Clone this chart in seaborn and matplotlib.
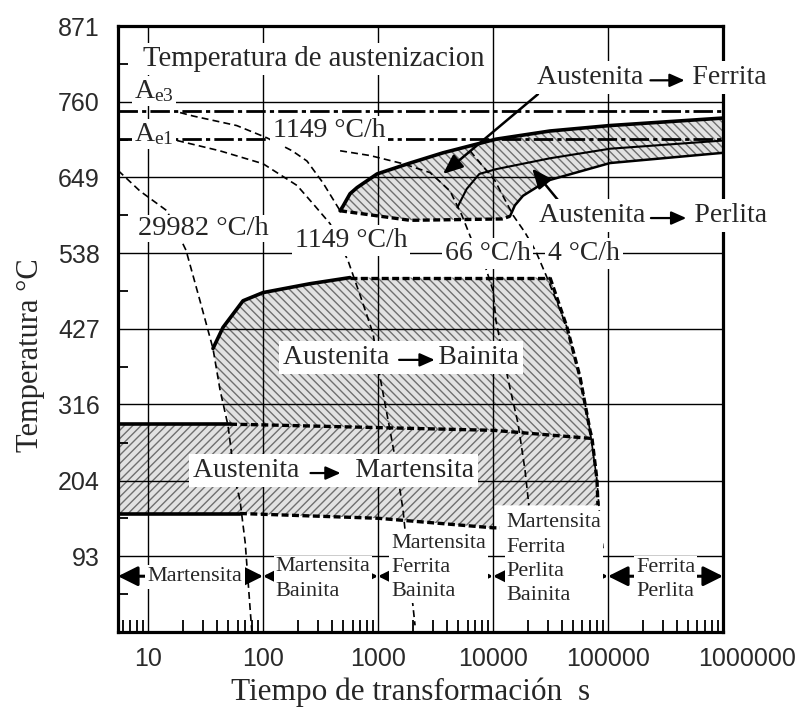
import numpy as np
import matplotlib
matplotlib.use('Agg')
import matplotlib.pyplot as plt
import matplotlib.transforms as mtransforms
import seaborn as sns
from matplotlib.ticker import FixedLocator, NullFormatter, LogLocator

# ---------------- data (time in s, temperature in deg C) ----------------
x_ticks = [10, 100, 1000, 10000, 100000, 1000000]
x_tick_labels = ['10', '100', '1000', '10000', '100000', '1000000']
y_ticks = [93, 204, 316, 427, 538, 649, 760, 871]
y_tick_labels = ['93', '204', '316', '427', '538', '649', '760', '871']

A_e3 = 746
A_e1 = 705

cool_29982_t = [5.5, 8.5, 14.6, 21.4, 28.3, 36.7, 42.3, 49.6, 57, 63, 70, 77, 80]
cool_29982_T = [659, 629, 600, 542, 468, 398, 337, 285, 205, 176, 113, 19, -18]
cool_1149a_t = [19, 24.6, 59, 108, 179, 241, 332, 468]
cool_1149a_T = [744, 739, 725, 707, 688, 673, 641, 600]
cool_1149b_t = [17.9, 42, 100, 198, 283, 383, 548, 726, 905, 1041, 1271, 1405, 1650, 1824, 2098]
cool_1149b_T = [703, 688, 669, 637, 607, 581, 527, 468, 420, 356, 278, 238, 161, 88, -8]
cool_66_t = [468, 852, 1650, 2833, 4229, 5375, 6564, 8500, 10000, 10600, 12500, 14000, 16500, 19000, 20500]
cool_66_T = [688, 681, 669, 656, 629, 593, 556, 520, 483, 439, 380, 341, 288, 219, 168]
cool_4_t = [6310, 10400, 15000, 19000, 23500, 29500, 44000, 57100, 69700, 80200, 85100, 90500]
cool_4_T = [688, 644, 593, 568, 541, 502, 429, 356, 278, 205, 146, 105]

# ferrite / pearlite band
ferr_start_t = [468, 497, 571, 657, 980, 1900, 3673, 10600, 31300, 104000, 1000000]
ferr_start_T = [600, 607, 625, 634, 654, 670, 685, 705, 717, 725, 736]
perl_start_t = [14060, 15500, 18230, 29500, 104000, 1000000]
perl_start_T = [592, 608, 622, 644, 670, 685]
fp_base_t = [468, 1900, 12000, 14060]
fp_base_T = [600, 586, 588, 592]
inner_t = [4900, 5900, 7600, 10600, 31300, 104000, 1000000]
inner_T = [605, 632, 654, 661, 677, 691, 703]

# bainite
bain_start_t = [36.7, 44.9, 67, 100, 256, 571]
bain_start_T = [398, 429, 468, 480, 493, 502]
bain_top_t = [571, 31300]
bain_top_T = [502, 502]
bain_end_t = [31300, 44000, 57100, 69700, 72600, 80200, 81800]
bain_end_T = [502, 429, 356, 278, 266, 205, 168]

# martensite
ms_solid_t = [5.48, 51.7]
ms_solid_T = [287, 287]
ms_dash_t = [51.7, 100, 1000, 10000, 72600]
ms_dash_T = [287, 286, 282, 278, 266]
mf_solid_t = [5.48, 63]
mf_solid_T = [156, 156]
mf_dash_t = [63, 1000, 10000, 10000, 11500]
mf_dash_T = [156, 149, 135, 135, 135]

# bottom product ranges
range_edges = [5.48, 100, 1000, 10000, 100000, 1000000]

# ---------------- style ----------------
sns.set_theme(style='white')
plt.rcParams.update({
    'font.family': ['Liberation Serif', 'DejaVu Serif'],
    'lines.scale_dashes': False,
    'hatch.linewidth': 1.0,
    'axes.axisbelow': 'line',
    'mathtext.default': 'regular',
})

fig = plt.figure(figsize=(8.03, 7.10), dpi=100)
ax = fig.add_axes([118 / 803, 78 / 710, 605 / 803, 606 / 710])
ax.set_xscale('log')
ax.set_xlim(5.48, 1e6)
ax.set_ylim(-17.8, 871)
ax.set_facecolor('white')

FACE = '#e2e2e2'
HATCH = '#6f6f6f'

# hatched regions
m_t = ms_solid_t[:1] + ms_dash_t + [80200, 81800, 10000, 10000, 1000, 63, 5.48]
m_T = ms_solid_T[:1] + ms_dash_T + [205, 168, 168, 135, 149, 156, 156]
ax.fill(m_t, m_T, facecolor=FACE, edgecolor=HATCH, lw=0, hatch='////', zorder=1)

b_t = bain_start_t + bain_end_t[:5] + ms_dash_t[::-1][1:] + [42.3]
b_T = bain_start_T + bain_end_T[:5] + ms_dash_T[::-1][1:] + [337]
ax.fill(b_t, b_T, facecolor=FACE, edgecolor=HATCH, lw=0, hatch='\\\\\\\\', zorder=1)

fp_t = ferr_start_t + perl_start_t[::-1] + fp_base_t[::-1]
fp_T = ferr_start_T + perl_start_T[::-1] + fp_base_T[::-1]
ax.fill(fp_t, fp_T, facecolor=FACE, edgecolor=HATCH, lw=0, hatch='\\\\\\\\', zorder=1)

# grid
ax.set_xticks(x_ticks)
ax.set_xticklabels(x_tick_labels)
ax.set_yticks(y_ticks)
ax.set_yticklabels(y_tick_labels)
ax.grid(True, which='major', color='black', lw=1.0)
ax.xaxis.set_minor_locator(LogLocator(base=10, subs=np.arange(2, 10), numticks=30))
ax.xaxis.set_minor_formatter(NullFormatter())
ax.yaxis.set_minor_locator(FixedLocator([(f - 32) * 5 / 9 for f in range(100, 1600, 200)]))
ax.tick_params(which='major', length=0)
ax.tick_params(axis='x', which='major', pad=11, labelsize=18)
ax.tick_params(axis='y', which='major', pad=13, labelsize=18)
ax.tick_params(axis='x', which='minor', direction='in', length=9, width=1.3,
               bottom=True, top=False, color='black')
ax.tick_params(axis='y', which='minor', direction='in', length=7, width=1.3,
               left=True, right=False, color='black')
for lab in ax.get_xticklabels() + ax.get_yticklabels():
    lab.set_fontfamily('Liberation Sans')
    lab.set_color('#2a2a2a')
last = ax.get_xticklabels()[-1]
last.set_transform(last.get_transform() +
                   mtransforms.ScaledTranslation(24 / 100, 0, fig.dpi_scale_trans))
for s in ax.spines.values():
    s.set_linewidth(2.3)
    s.set_color('black')


def curve(t, T, **kw):
    sns.lineplot(x=t, y=T, sort=False, estimator=None, ax=ax, color='black', **kw)


THIN = dict(lw=1.2, linestyle=(0, (5, 3)), zorder=3)
HEAVY_D = dict(lw=2.4, linestyle=(0, (5, 2.5)), zorder=3)
HEAVY = dict(lw=2.6, zorder=3)

# A lines
curve([5.48, 1e6], [A_e3, A_e3], lw=2.0, linestyle=(0, (14, 3, 3, 3)), zorder=3)
curve([5.48, 1e6], [A_e1, A_e1], lw=2.0, linestyle=(0, (14, 3, 3, 3)), zorder=3)

# cooling curves
curve(cool_29982_t, cool_29982_T, **THIN)
curve(cool_1149a_t, cool_1149a_T, **THIN)
curve(cool_1149b_t, cool_1149b_T, **THIN)
curve(cool_66_t, cool_66_T, **THIN)
curve(cool_4_t, cool_4_T, **THIN)

# transformation boundaries
curve(ferr_start_t, ferr_start_T, **HEAVY)
curve(perl_start_t, perl_start_T, lw=1.8, zorder=3)
curve(inner_t, inner_T, lw=1.5, zorder=3)
curve(fp_base_t, fp_base_T, **HEAVY_D)
curve(bain_start_t, bain_start_T, **HEAVY)
curve(bain_top_t, bain_top_T, **HEAVY_D)
curve(bain_end_t, bain_end_T, **HEAVY_D)
curve(ms_solid_t, ms_solid_T, **HEAVY)
curve(ms_dash_t, ms_dash_T, **HEAVY_D)
curve(mf_solid_t, mf_solid_T, **HEAVY)
curve(mf_dash_t, mf_dash_T, **HEAVY_D)

WB = lambda p=0.1: dict(boxstyle=f'square,pad={p}', fc='white', ec='none')

# simple labels
ax.text(9.05, 823, 'Temperatura de austenizacion', fontsize=20.6, ha='left', va='center',
        zorder=6, bbox=WB(0.1))
ax.text(7.6, 765, 'A$_{\\mathregular{e3}}$', fontsize=20, ha='left', va='baseline',
        zorder=6, bbox=WB(0.08))
ax.text(7.6, 702, 'A$_{\\mathregular{e1}}$', fontsize=20, ha='left', va='baseline',
        zorder=6, bbox=WB(0.08))
ax.text(122, 717, '1149 °C/h', fontsize=20, ha='left', va='center', zorder=6, bbox=WB(0.1))
ax.text(8.2, 574, '29982 °C/h', fontsize=20.5, ha='left', va='center', zorder=6, bbox=WB(0.05))
ax.text(190, 556, '1149 °C/h', fontsize=20, ha='left', va='center', zorder=6, bbox=WB(0.1))
ax.text(3800, 537, '66 °C/h', fontsize=20, ha='left', va='center', zorder=6, bbox=WB(0.1))
ax.text(30100, 537, '4 °C/h', fontsize=20, ha='left', va='center', zorder=6, bbox=WB(0.1))


def compound(x, y, left, right, nsp, fa, fb, pad=0.15):
    t = ax.text(x, y, left + ' ' * nsp + right, fontsize=20, ha='left', va='center',
                zorder=6, bbox=WB(pad), clip_on=False)
    ax.annotate('', xy=(fb, 0.4), xycoords=t, xytext=(fa, 0.4), textcoords=t,
                arrowprops=dict(arrowstyle='-|>,head_length=0.45,head_width=0.2',
                                mutation_scale=20, color='black', lw=1.6,
                                shrinkA=0, shrinkB=0), zorder=7)
    return t


compound(23900, 795, 'Austenita', 'Ferrita', 7, 0.496, 0.645)
compound(25300, 593, 'Austenita', 'Perlita', 7, 0.489, 0.644)
compound(150, 385, 'Austenita', 'Bainita', 7, 0.491, 0.642)
compound(24.6, 219, 'Austenita', 'Martensita', 8, 0.418, 0.525)

# pointer arrows
ax.annotate('', xy=(3673, 654), xytext=(24600, 771),
            arrowprops=dict(arrowstyle='-|>,head_length=0.6,head_width=0.25',
                            mutation_scale=20, color='black', lw=1.8,
                            shrinkA=0, shrinkB=0), zorder=5)
ax.annotate('', xy=(21900, 662), xytext=(38300, 612),
            arrowprops=dict(arrowstyle='-|>,head_length=0.6,head_width=0.25',
                            mutation_scale=20, color='black', lw=1.8,
                            shrinkA=0, shrinkB=0), zorder=5)

# bottom range arrows and labels
for a, b in zip(range_edges[:-1], range_edges[1:]):
    ax.annotate('', xy=(b, 64), xytext=(a, 64),
                arrowprops=dict(arrowstyle='<|-|>,head_length=0.6,head_width=0.3',
                                mutation_scale=20, color='black', lw=2.2,
                                shrinkA=0, shrinkB=0), zorder=4)

BOT = dict(fontsize=16, ha='left', va='center', linespacing=1.38, zorder=6)
ax.text(25.6, 63, 'Martensita', bbox=WB(0.1), **{**BOT, 'ha': 'center'})
ax.text(128, 60, 'Martensita\nBainita', bbox=WB(0.08), **BOT)
ax.text(1303, 77, 'Martensita\nFerrita\nBainita', bbox=WB(0.08), **BOT)
ax.text(13100, 89, 'Martensita\nFerrita\nPerlita\nBainita', bbox=WB(0.08), **BOT)
ax.text(176000, 59, 'Ferrita\nPerlita', bbox=WB(0.08), **BOT)

ax.set_xlabel('Tiempo de transformación  s', fontsize=22.5, va='top')
ax.xaxis.set_label_coords(0.483, -0.075)
ax.set_ylabel('Temperatura °C', fontsize=22)
ax.yaxis.set_label_coords(-0.12, 0.457)

fig.savefig('out.png', dpi=100)
